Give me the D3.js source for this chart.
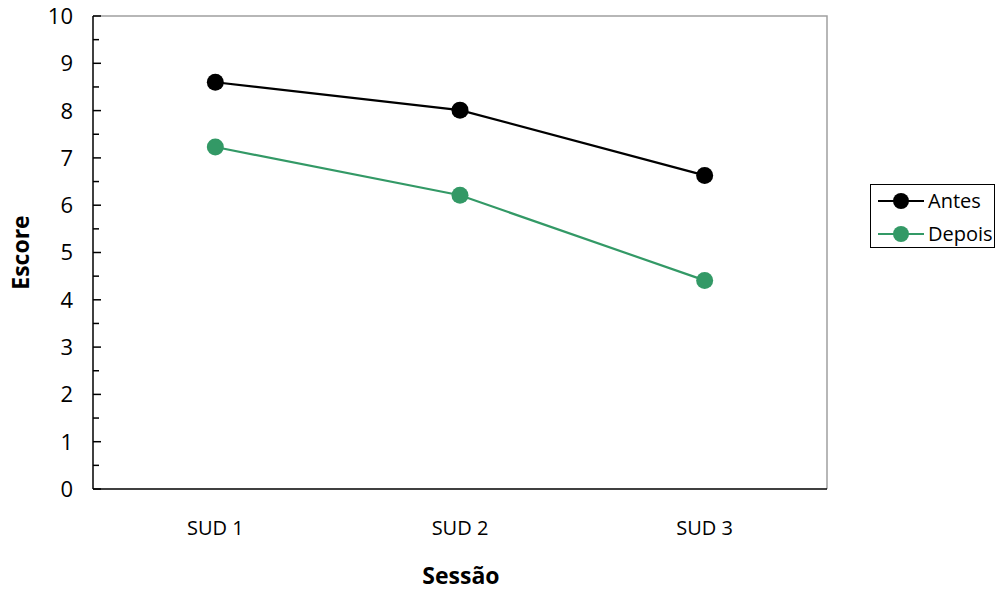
<!DOCTYPE html>
<html>
<head>
<meta charset="utf-8">
<script src="https://cdn.jsdelivr.net/npm/d3@7"></script>
<style>
  html, body { margin: 0; padding: 0; background: #fff; }
  svg { display: block; font-family: "Open Sans", "Noto Sans", sans-serif; }
</style>
</head>
<body>
<svg id="chart" width="997" height="591"></svg>
<script>
// Mean scores per session, before and after
const categories = ["SUD 1", "SUD 2", "SUD 3"];
const seriesNames = ["Antes", "Depois"];
const antes = [8.6, 8.01, 6.63];
const depois = [7.23, 6.21, 4.41];
const yTicks = [0, 1, 2, 3, 4, 5, 6, 7, 8, 9, 10];
const colors = ["#000000", "#339966"];

const svg = d3.select("#chart");
const plot = { left: 93, right: 827, top: 16, bottom: 489 };

const x = d3.scaleBand().domain(categories).range([plot.left, plot.right]);
const y = d3.scaleLinear().domain([0, 10]).range([plot.bottom, plot.top]);

// plot frame: gray top/right edges
svg.append("path")
  .attr("d", `M${plot.left},${plot.top}H${plot.right}V${plot.bottom}`)
  .attr("fill", "none").attr("stroke", "#a0a0a0").attr("stroke-width", 1.5);

// y axis with major ticks and half-step minor ticks pointing inward
const yAxis = svg.append("g").attr("transform", `translate(${plot.left},0)`);
yAxis.append("line").attr("x1", 0).attr("x2", 0).attr("y1", plot.top).attr("y2", plot.bottom)
  .attr("stroke", "#000").attr("stroke-width", 1.5);
yAxis.selectAll(".major").data(yTicks).join("line")
  .attr("x1", 0).attr("x2", 8).attr("y1", d => y(d)).attr("y2", d => y(d))
  .attr("stroke", "#000").attr("stroke-width", 1.5);
yAxis.selectAll(".minor").data(d3.range(0.5, 10, 1)).join("line")
  .attr("x1", 0).attr("x2", 6).attr("y1", d => y(d)).attr("y2", d => y(d))
  .attr("stroke", "#000").attr("stroke-width", 1.5);
yAxis.selectAll("text").data(yTicks).join("text")
  .attr("x", -20).attr("y", d => y(d)).attr("dy", "0.36em")
  .attr("text-anchor", "end").attr("font-size", 22).text(d => d);

// x axis line and category labels
svg.append("line").attr("x1", plot.left).attr("x2", plot.right)
  .attr("y1", plot.bottom).attr("y2", plot.bottom)
  .attr("stroke", "#000").attr("stroke-width", 1.5);
svg.append("g").selectAll("text").data(categories).join("text")
  .attr("x", d => x(d) + x.bandwidth() / 2).attr("y", 535)
  .attr("text-anchor", "middle").attr("font-size", 20).text(d => d);

// axis titles
svg.append("text").attr("x", 461).attr("y", 584).attr("text-anchor", "middle")
  .attr("font-size", 23).attr("font-weight", "bold").text("Sessão");
svg.append("text").attr("transform", "translate(29,252.5) rotate(-90)")
  .attr("text-anchor", "middle").attr("font-size", 23).attr("font-weight", "bold").text("Escore");

// series lines and markers
const series = [antes, depois];
const line = d3.line().x((d, i) => x(categories[i]) + x.bandwidth() / 2).y(d => y(d));
series.forEach((vals, s) => {
  svg.append("path").datum(vals).attr("d", line)
    .attr("fill", "none").attr("stroke", colors[s]).attr("stroke-width", 2.2);
  svg.append("g").selectAll("circle").data(vals).join("circle")
    .attr("cx", (d, i) => x(categories[i]) + x.bandwidth() / 2).attr("cy", d => y(d))
    .attr("r", 8.5).attr("fill", colors[s]);
});

// legend
const legend = svg.append("g");
legend.append("rect").attr("x", 870.5).attr("y", 184.5).attr("width", 124).attr("height", 63)
  .attr("fill", "#fff").attr("stroke", "#000").attr("stroke-width", 1);
seriesNames.forEach((name, s) => {
  const ly = 201 + s * 33;
  legend.append("line").attr("x1", 878).attr("x2", 924).attr("y1", ly).attr("y2", ly)
    .attr("stroke", colors[s]).attr("stroke-width", 2.2);
  legend.append("circle").attr("cx", 901).attr("cy", ly).attr("r", 8).attr("fill", colors[s]);
  legend.append("text").attr("x", 928).attr("y", ly).attr("dy", "0.36em")
    .attr("font-size", 20).text(name);
});
</script>
</body>
</html>
